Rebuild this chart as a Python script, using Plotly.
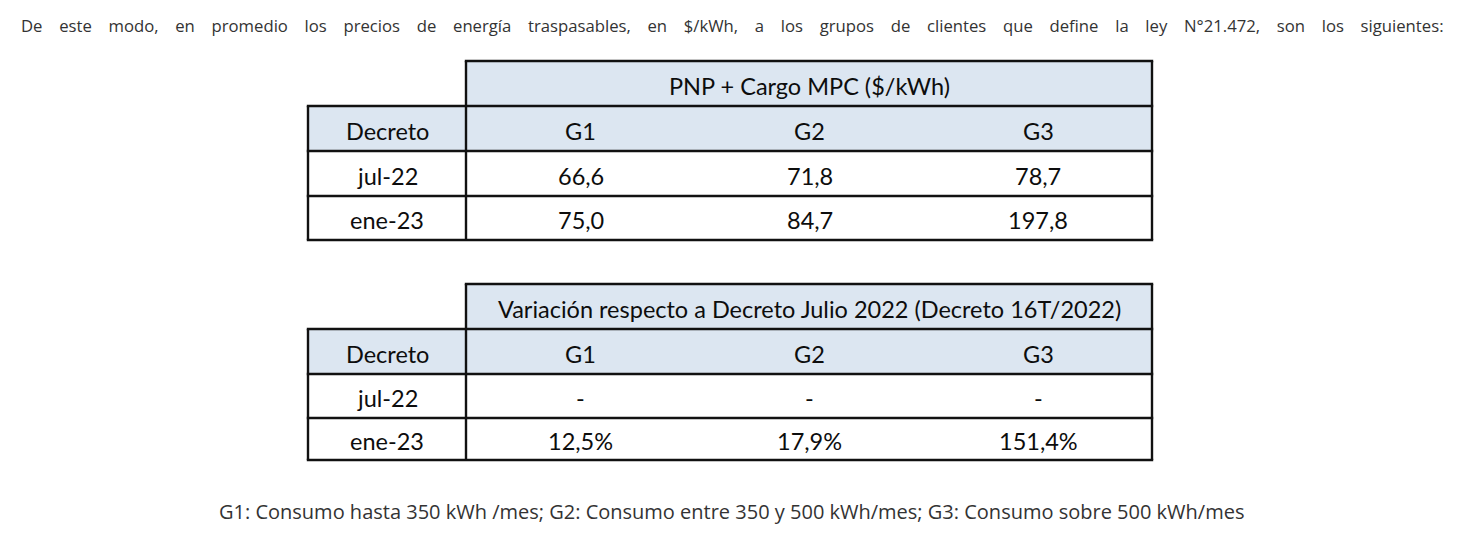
import plotly.graph_objects as go

# ---------------- data ----------------
intro_words = ["De", "este", "modo,", "en", "promedio", "los", "precios", "de", "energía",
               "traspasables,", "en", "$/kWh,", "a", "los", "grupos", "de", "clientes", "que",
               "define", "la", "ley", "N°21.472,", "son", "los", "siguientes:"]
caption_text = ("G1: Consumo hasta 350 kWh /mes; G2: Consumo entre 350 y 500 kWh/mes; "
                "G3: Consumo sobre 500 kWh/mes")

groups = ["G1", "G2", "G3"]
decretos = ["jul-22", "ene-23"]
row_header = "Decreto"

table1_title = "PNP + Cargo MPC ($/kWh)"
pnp_g1 = [66.6, 75.0]
pnp_g2 = [71.8, 84.7]
pnp_g3 = [78.7, 197.8]

table2_title = "Variación respecto a Decreto Julio 2022 (Decreto 16T/2022)"
var_g1 = [None, 12.5]
var_g2 = [None, 17.9]
var_g3 = [None, 151.4]

# ---------------- geometry / style ----------------
PAGE_W, PAGE_H = 1475, 536
OFF = 8  # default body margin of the html page
col_edges = [308, 466, 695, 924, 1152]
table1_rows = [61, 106, 151, 196, 240]
table2_rows = [284, 329, 374, 418, 460]
header_fill = "#dce6f1"
line_col = "#111111"
lw = 2.4
table_font = dict(family="Lato, Carlito, Calibri, sans-serif", size=23.5, color="#0d0d0d")
text_font = dict(family="Open Sans, sans-serif", color="#333333")


def fmt_num(v, suffix=""):
    if v is None:
        return "-"
    return f"{v:.1f}".replace(".", ",") + suffix


fig = go.Figure()
shapes = []
annotations = []


def rect(x0, x1, y0, y1, fill):
    shapes.append(dict(type="rect", xref="x", yref="y", x0=x0, x1=x1, y0=y0, y1=y1,
                       fillcolor=fill, line=dict(width=0), layer="below"))


def hline(x0, x1, y):
    shapes.append(dict(type="line", xref="x", yref="y", x0=x0, x1=x1, y0=y, y1=y,
                       line=dict(color=line_col, width=lw)))


def vline(x, y0, y1):
    shapes.append(dict(type="line", xref="x", yref="y", x0=x, x1=x, y0=y0, y1=y1,
                       line=dict(color=line_col, width=lw)))


def cell_text(x, y, txt):
    annotations.append(dict(x=x, y=y + 2, xref="x", yref="y", text=txt, showarrow=False,
                            xanchor="center", yanchor="middle", font=table_font))


def draw_table(rows, title, columns):
    x_left, x_mid, x_right = col_edges[0], col_edges[1], col_edges[-1]
    half = lw / 2
    rect(x_mid, x_right, rows[0], rows[1], header_fill)
    rect(x_left, x_right, rows[1], rows[2], header_fill)
    hline(x_mid - half, x_right + half, rows[0])
    for r in rows[1:]:
        hline(x_left - half, x_right + half, r)
    vline(x_left, rows[1], rows[-1])
    vline(x_mid, rows[0], rows[-1])
    vline(x_right, rows[0], rows[-1])
    cell_text((x_mid + x_right) / 2, (rows[0] + rows[1]) / 2, title)
    cell_text((col_edges[0] + col_edges[1]) / 2, (rows[1] + rows[2]) / 2, row_header)
    for i, g in enumerate(groups):
        cell_text((col_edges[i + 1] + col_edges[i + 2]) / 2, (rows[1] + rows[2]) / 2, g)
    for r, d in enumerate(decretos):
        yc = (rows[r + 2] + rows[r + 3]) / 2
        cell_text((col_edges[0] + col_edges[1]) / 2, yc, d)
        for i, colvals in enumerate(columns):
            cell_text((col_edges[i + 1] + col_edges[i + 2]) / 2, yc, colvals[r])


draw_table(table1_rows, table1_title, [[fmt_num(v) for v in c] for c in (pnp_g1, pnp_g2, pnp_g3)])
draw_table(table2_rows, table2_title, [[fmt_num(v, "%") for v in c] for c in (var_g1, var_g2, var_g3)])

# justified-looking intro line (wide word gaps)
annotations.append(dict(x=732, y=25, xref="x", yref="y", text="\u2003".join(intro_words),
                        showarrow=False, xanchor="center", yanchor="middle",
                        font=dict(size=16.7, **text_font)))
annotations.append(dict(x=731, y=511, xref="x", yref="y", text=caption_text, showarrow=False,
                        xanchor="center", yanchor="middle", font=dict(size=20, **text_font)))

fig.update_layout(
    width=PAGE_W - 2 * OFF, height=PAGE_H - 2 * OFF,
    margin=dict(l=0, r=0, t=0, b=0),
    paper_bgcolor="white", plot_bgcolor="white",
    xaxis=dict(range=[OFF, PAGE_W - OFF], visible=False, fixedrange=True),
    yaxis=dict(range=[PAGE_H - OFF, OFF], visible=False, fixedrange=True),
    shapes=shapes, annotations=annotations, showlegend=False,
)
fig.write_html("out.html")
